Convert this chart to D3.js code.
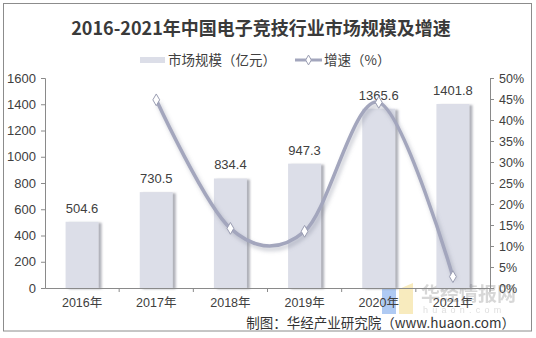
<!DOCTYPE html>
<html><head><meta charset="utf-8">
<script src="https://cdn.jsdelivr.net/npm/d3@7"></script>
<style>
html,body{margin:0;padding:0;background:#fff;}
svg{display:block;font-family:"Liberation Sans",Arial,"Noto Sans CJK SC",sans-serif;}
</style></head><body>
<svg id="c" width="536" height="338"></svg>
<script>
const categories = ["2016年","2017年","2018年","2019年","2020年","2021年"];
const marketSize = [504.6, 730.5, 834.4, 947.3, 1365.6, 1401.8];
const growth = [null, 44.8, 14.2, 13.5, 44.2, 2.7];
const leftTicks = [0,200,400,600,800,1000,1200,1400,1600];
const rightTicks = [0,5,10,15,20,25,30,35,40,45,50];
const titleText = "2016-2021年中国电子竞技行业市场规模及增速";
const legendBar = "市场规模（亿元）";
const legendLine = "增速（%）";
const sourceText = "制图：华经产业研究院（www.huaon.com）";

(function(){
const svg = d3.select("#c");
const cjk = '"Noto Sans CJK SC","Liberation Sans",sans-serif';
const defs = svg.append("defs");
const f1 = defs.append("filter").attr("id","barShadow").attr("x","-20%").attr("y","-10%").attr("width","160%").attr("height","130%");
f1.append("feDropShadow").attr("dx",3).attr("dy",1).attr("stdDeviation",1.2).attr("flood-color","#6e7080").attr("flood-opacity",0.55);
const f2 = defs.append("filter").attr("id","lineShadow").attr("x","-10%").attr("y","-10%").attr("width","120%").attr("height","130%");
f2.append("feDropShadow").attr("dx",2).attr("dy",3).attr("stdDeviation",2).attr("flood-color","#7d8094").attr("flood-opacity",0.45);

// frame
svg.append("rect").attr("x",3.5).attr("y",3.5).attr("width",528).attr("height",327.5)
  .attr("fill","#fff").attr("stroke","#8c8c8c").attr("stroke-width",1);

const pLeft = 45, pRight = 490, pTop = 78, pBottom = 288;
const x = d3.scaleBand().domain(categories).range([pLeft,pRight]).paddingInner(0.555).paddingOuter(0.2775);
const y = d3.scaleLinear().domain([0,1600]).range([pBottom,pTop]);
const y2 = d3.scaleLinear().domain([0,50]).range([pBottom,pTop]);

// title
svg.append("text").attr("x",261).attr("y",35).attr("text-anchor","middle")
  .attr("font-family",'"Noto Sans CJK SC",serif').attr("font-weight","bold").attr("font-size",18)
  .attr("fill","#3a3a3a").text(titleText);

// legend
svg.append("rect").attr("x",140).attr("y",57).attr("width",25).attr("height",6).attr("fill","#dcdee8");
svg.append("text").attr("x",168).attr("y",65).attr("font-family",cjk).attr("font-size",13.5).attr("fill","#404040").text(legendBar);
svg.append("line").attr("x1",295).attr("x2",322).attr("y1",60).attr("y2",60).attr("stroke","#a3a6bd").attr("stroke-width",3);
svg.append("path").attr("d",d3.symbol(d3.symbolDiamond,28)()).attr("transform","translate(308.5,60)")
  .attr("fill","#fff").attr("stroke","#9a9db2").attr("stroke-width",1);
svg.append("text").attr("x",324).attr("y",65).attr("font-family",cjk).attr("font-size",13.5).attr("fill","#404040").text(legendLine);

// watermark
const wm = svg.append("g").attr("opacity",0.55);
wm.append("path").attr("d","M382,283 L396,289 L396,314 L382,314 Z").attr("fill","#6fa0ea");
wm.append("path").attr("d","M399,289 L413,283 L413,314 L399,314 Z").attr("fill","#f3dc8a");
wm.append("text").attr("x",421).attr("y",301).attr("font-family",cjk).attr("font-weight","bold").attr("font-size",19)
  .attr("fill","#b8b8b8").text("华经情报网");
wm.append("text").attr("x",423).attr("y",313).attr("font-size",9).attr("letter-spacing",4.2)
  .attr("fill","#c4c4c4").text("huaon.com");

// bars
svg.append("g").selectAll("rect").data(marketSize).join("rect")
  .attr("x",(d,i)=>x(categories[i])).attr("width",x.bandwidth())
  .attr("y",d=>y(d)).attr("height",d=>pBottom-y(d))
  .attr("fill","#dcdee8").attr("filter","url(#barShadow)");

// bar labels
svg.append("g").selectAll("text").data(marketSize).join("text")
  .attr("x",(d,i)=>x(categories[i])+x.bandwidth()/2).attr("y",d=>y(d)-9)
  .attr("text-anchor","middle").attr("font-size",13).attr("fill","#404040").text(d=>d.toFixed(1));

// axes
const axisColor = "#8a8a8a";
const gl = svg.append("g").attr("transform",`translate(${pLeft},0)`)
  .call(d3.axisLeft(y).tickValues(leftTicks).tickSize(4).tickPadding(5).tickFormat(d3.format("d")));
const gr = svg.append("g").attr("transform",`translate(${pRight},0)`)
  .call(d3.axisRight(y2).tickValues(rightTicks).tickSize(4).tickPadding(5).tickFormat(d=>d+"%"));
const gx = svg.append("g").attr("transform",`translate(0,${pBottom})`)
  .call(d3.axisBottom(x).tickSize(0).tickPadding(10));
[gl,gr,gx].forEach(g=>{
  g.select(".domain").attr("stroke",axisColor);
  g.selectAll(".tick line").attr("stroke",axisColor);
  g.selectAll("text").attr("fill","#404040").attr("font-family",'"Liberation Sans","Noto Sans CJK SC",sans-serif');
});
gl.selectAll("text").attr("font-size",13);
gr.selectAll("text").attr("font-size",12.5);
gx.selectAll("text").attr("font-size",12.5);
// x tick marks at category boundaries
const step = x.step();
svg.append("g").selectAll("line").data(categories).join("line")
  .attr("x1",(d,i)=>pLeft+step*(i+1)).attr("x2",(d,i)=>pLeft+step*(i+1))
  .attr("y1",pBottom).attr("y2",pBottom+4).attr("stroke",axisColor);

// line
const pts = growth.map((v,i)=>v==null?null:[x(categories[i])+x.bandwidth()/2, y2(v)]).filter(p=>p);
const lineGen = d3.line().curve(d3.curveCardinal.tension(0));
svg.append("path").attr("d",lineGen(pts)).attr("fill","none")
  .attr("stroke","#a3a6bd").attr("stroke-width",3.5).attr("filter","url(#lineShadow)");
svg.append("g").selectAll("path").data(pts).join("path")
  .attr("d",d3.symbol(d3.symbolDiamond,40)())
  .attr("transform",d=>`translate(${d[0]},${d[1]})`)
  .attr("fill","#fff").attr("stroke","#9a9db2").attr("stroke-width",1);

// source
svg.append("text").attr("x",515).attr("y",328).attr("text-anchor","end")
  .attr("font-family",cjk).attr("font-size",13.5).attr("fill","#333").text(sourceText);
})();
</script>
</body></html>
